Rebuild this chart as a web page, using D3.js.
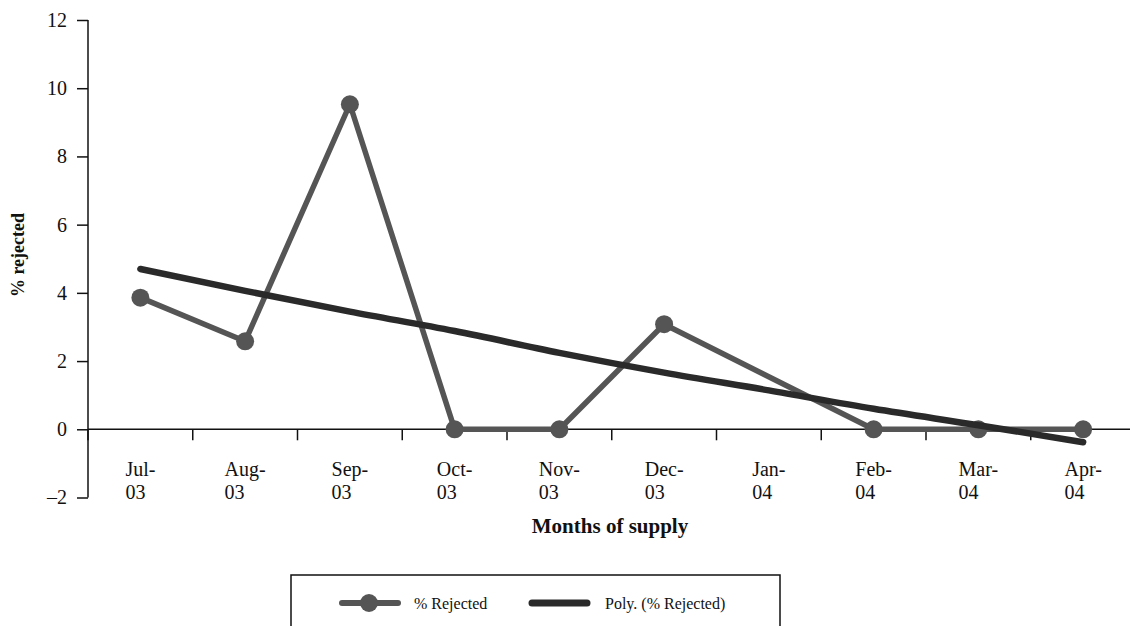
<!DOCTYPE html>
<html>
<head>
<meta charset="utf-8">
<script src="https://cdn.jsdelivr.net/npm/d3@7"></script>
<style>
  html, body { margin: 0; padding: 0; background: #fff; }
  svg { display: block; }
  text { font-family: "Liberation Serif", "Times New Roman", serif; fill: #111; }
</style>
</head>
<body>
<svg id="chart" width="1130" height="626"></svg>
<script>
const categories = ["Jul-03","Aug-03","Sep-03","Oct-03","Nov-03","Dec-03","Jan-04","Feb-04","Mar-04","Apr-04"];
const rejected = [3.86, 2.58, 9.53, 0, 0, 3.08, null, 0, 0, 0];
const polyTrend = [4.70, 4.06, 3.45, 2.88, 2.24, 1.66, 1.14, 0.60, 0.12, -0.38];
const yTicks = [-2, 0, 2, 4, 6, 8, 10, 12];

(function () {
const svg = d3.select("#chart");
const mLeft = 88, mRight = 1135.5, mTop = 20, mBottom = 497.5;

const x = d3.scaleBand().domain(categories).range([mLeft, mRight]).padding(0);
const y = d3.scaleLinear().domain([-2, 12]).range([mBottom, mTop]);
const cx = c => x(c) + x.bandwidth() / 2;

// Y axis
const yAxis = d3.axisLeft(y).tickValues(yTicks).tickSize(11).tickPadding(10)
  .tickFormat(d => d < 0 ? "\u2013" + Math.abs(d) : d);
const gy = svg.append("g").attr("transform", `translate(${mLeft},0)`).call(yAxis);
gy.select(".domain").attr("stroke", "#111").attr("stroke-width", 1.5).attr("d", `M0,${mTop}V${mBottom}`);
gy.selectAll(".tick line").attr("stroke", "#111").attr("stroke-width", 1.5);
gy.selectAll(".tick text").style("font-size", "20px").attr("fill", "#111").style("font-family", "Liberation Serif");

// X axis at zero
const xAxis = d3.axisBottom(x).tickSize(0).tickFormat("");
const gx = svg.append("g").attr("transform", `translate(0,${y(0)})`).call(xAxis);
gx.select(".domain").attr("stroke", "#111").attr("stroke-width", 1.5).attr("d", `M${mLeft},0H1130`);
const boundaries = categories.map(c => x(c)).concat([mRight]);
gx.selectAll(".bnd").data(boundaries).join("line")
  .attr("class", "bnd")
  .attr("x1", d => d).attr("x2", d => d)
  .attr("y1", 0).attr("y2", 11)
  .attr("stroke", "#111").attr("stroke-width", 1.5);

// category labels (two lines, left-aligned block, centered)
const labels = svg.append("g");
categories.forEach(c => {
  const parts = c.split("-");
  const t = labels.append("text").style("font-size", "20px");
  const t1 = t.append("tspan").text(parts[0] + "-");
  const w = t1.node().getComputedTextLength();
  const x0 = cx(c) - w / 2;
  t1.attr("x", x0).attr("y", 476);
  t.append("tspan").text(parts[1]).attr("x", x0).attr("y", 499);
});

// Axis titles
svg.append("text").attr("x", 610).attr("y", 533).attr("text-anchor", "middle")
  .style("font-size", "21px").style("font-weight", "bold").text("Months of supply");
svg.append("text").attr("transform", "translate(24,255) rotate(-90)").attr("text-anchor", "middle")
  .style("font-size", "18px").style("font-weight", "bold").text("% rejected");

// Data series
const pts = categories.map((c, i) => ({c, v: rejected[i]})).filter(d => d.v !== null);
const line = d3.line().x(d => cx(d.c)).y(d => y(d.v));
svg.append("path").datum(pts).attr("d", line)
  .attr("fill", "none").attr("stroke", "#555").attr("stroke-width", 5.5).attr("stroke-linejoin", "round");
svg.selectAll(".dot").data(pts).join("circle").attr("class", "dot")
  .attr("cx", d => cx(d.c)).attr("cy", d => y(d.v)).attr("r", 9).attr("fill", "#555");

// Trendline
const tr = categories.map((c, i) => ({c, v: polyTrend[i]}));
svg.append("path").datum(tr).attr("d", d3.line().x(d => cx(d.c)).y(d => y(d.v)).curve(d3.curveMonotoneX))
  .attr("fill", "none").attr("stroke", "#2a2a2a").attr("stroke-width", 6.5).attr("stroke-linecap", "round");

// Legend
const lg = svg.append("g");
lg.append("rect").attr("x", 291).attr("y", 575).attr("width", 489).attr("height", 70)
  .attr("fill", "#fff").attr("stroke", "#111").attr("stroke-width", 1.5);
lg.append("line").attr("x1", 342).attr("x2", 398).attr("y1", 603).attr("y2", 603)
  .attr("stroke", "#555").attr("stroke-width", 6).attr("stroke-linecap", "round");
lg.append("circle").attr("cx", 369).attr("cy", 603).attr("r", 9).attr("fill", "#555");
lg.append("text").attr("x", 414).attr("y", 609).style("font-size", "16px").text("% Rejected");
lg.append("line").attr("x1", 532).attr("x2", 587).attr("y1", 603).attr("y2", 603)
  .attr("stroke", "#2a2a2a").attr("stroke-width", 7).attr("stroke-linecap", "round");
lg.append("text").attr("x", 605).attr("y", 609).style("font-size", "16px").text("Poly. (% Rejected)");
})();
</script>
</body>
</html>
